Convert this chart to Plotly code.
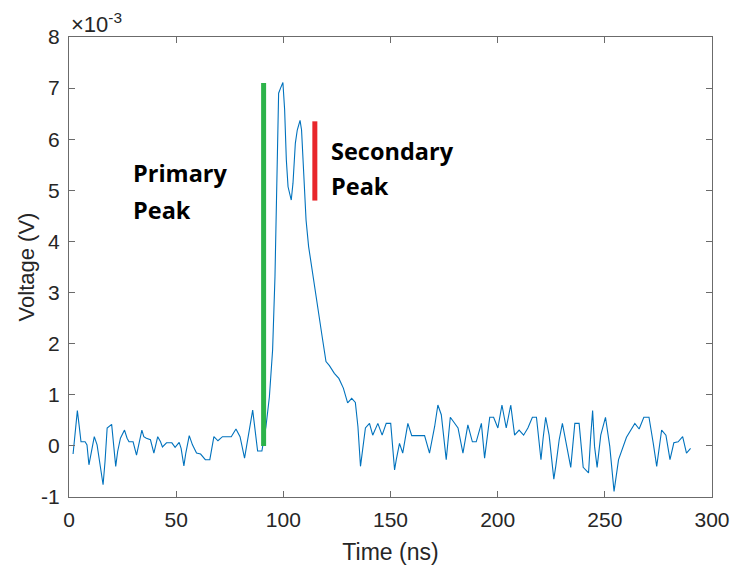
import plotly.graph_objects as go

# Time (ns) and voltage (x1e-3 V)
time_ns = [1.9, 2.8, 3.9, 4.7, 5.6, 7.5, 8.4, 9.3, 10.3, 11.8, 13.1, 14.3, 15.9, 16.8, 17.8,
           19.9, 20.9, 21.8, 22.7, 24.0, 25.9, 27.1, 28.0, 29.9, 31.5, 32.4, 34.0, 34.9, 36.1,
           38.0, 39.6, 41.4, 42.7, 43.6, 45.5, 48.0, 49.5, 51.4, 52.3, 53.6, 54.5, 56.1, 57.6,
           59.5, 61.4, 63.6, 65.7, 67.6, 69.5, 71.6, 75.7, 77.9, 79.8, 81.9, 83.7, 85.7, 86.5,
           88.0, 90.0, 91.9, 93.5, 95.0, 96.1, 97.0, 97.8, 98.7, 99.8, 100.6, 101.4, 102.2,
           102.9, 103.7, 104.5, 105.6, 106.5, 107.8, 108.5, 109.3, 110.6, 111.8, 112.9, 114.0,
           116.0, 118.1, 119.9, 121.5, 123.8, 125.9, 128.0, 130.0, 131.9, 133.6, 134.8, 136.0,
           138.3, 140.2, 141.7, 144.1, 146.1, 148.0, 150.1, 151.9, 152.7, 154.2, 155.7, 158.1,
           159.9, 165.9, 168.2, 170.6, 172.1, 173.7, 176.0, 177.9, 181.5, 183.8, 186.1, 188.2,
           190.0, 192.4, 193.9, 196.3, 198.1, 200.1, 202.0, 204.0, 206.1, 207.9, 210.0, 212.1,
           214.1, 216.2, 218.1, 219.3, 220.2, 221.2, 222.4, 224.0, 226.2, 227.1, 228.7, 230.2,
           232.1, 234.1, 236.0, 238.0, 239.9, 242.4, 243.3, 244.3, 245.2, 246.4, 248.1, 250.3,
           252.3, 254.3, 256.4, 260.1, 264.0, 266.0, 268.2, 270.6, 272.6, 274.2, 276.5, 278.5,
           280.4, 282.2, 284.2, 286.3, 288.1, 290.0]
voltage_e3 = [-0.16, 0.21, 0.69, 0.41, 0.08, 0.08, 0.02, -0.37, -0.14, 0.18, 0.02, -0.31, -0.76,
              -0.31, 0.35, 0.42, 0.02, -0.40, -0.11, 0.15, 0.31, 0.15, 0.08, 0.08, -0.18, 0.02,
              0.31, 0.18, 0.15, 0.12, -0.14, 0.18, 0.08, -0.02, 0.06, 0.06, -0.03, 0.07, -0.05,
              -0.39, -0.14, 0.20, 0.02, -0.14, -0.16, -0.27, -0.27, 0.18, 0.10, 0.18, 0.18, 0.33,
              0.18, -0.24, 0.25, 0.70, 0.42, -0.10, -0.10, 0.38, 0.96, 1.88, 3.31, 4.94, 6.90,
              7.00, 7.11, 6.58, 5.60, 5.07, 4.94, 4.81, 5.14, 5.92, 6.18, 6.37, 6.18, 5.60, 4.42,
              3.90, 3.58, 3.25, 2.66, 2.14, 1.65, 1.57, 1.42, 1.32, 1.13, 0.84, 0.93, 0.85, 0.38,
              -0.40, 0.35, 0.44, 0.21, 0.44, 0.21, 0.44, 0.44, -0.47, -0.27, 0.05, -0.14, 0.44,
              0.20, 0.20, -0.14, 0.38, 0.80, 0.61, -0.27, 0.56, 0.35, -0.14, 0.41, 0.08, 0.08,
              0.44, -0.24, 0.56, 0.56, 0.35, 0.80, 0.35, 0.80, 0.21, 0.31, 0.21, 0.35, 0.56, 0.56,
              0.05, -0.27, 0.15, 0.56, 0.21, -0.65, -0.40, 0.12, 0.44, 0.05, -0.42, 0.44, 0.44,
              -0.42, -0.53, 0.12, 0.69, -0.01, -0.42, 0.21, 0.56, -0.01, -0.89, -0.27, 0.17, 0.44,
              0.33, 0.56, 0.56, 0.05, -0.40, 0.31, 0.21, -0.27, 0.06, 0.08, 0.18, -0.14, -0.05]

primary_marker_x = [90.8, 90.8]
primary_marker_y = [0.0, 7.1]
secondary_marker_x = [114.7, 114.7]
secondary_marker_y = [4.8, 6.35]

x_ticks = [0, 50, 100, 150, 200, 250, 300]
y_ticks = [-1, 0, 1, 2, 3, 4, 5, 6, 7, 8]

fig = go.Figure()
fig.add_trace(go.Scatter(x=time_ns, y=voltage_e3, mode="lines",
                         line=dict(color="#0072BD", width=1.1), showlegend=False))
fig.add_trace(go.Scatter(x=primary_marker_x, y=primary_marker_y, mode="lines",
                         line=dict(color="#2DB34A", width=5), showlegend=False))
fig.add_trace(go.Scatter(x=secondary_marker_x, y=secondary_marker_y, mode="lines",
                         line=dict(color="#E8262B", width=5), showlegend=False))

ann_font = dict(family="Open Sans", size=23.5, color="black")
for label, xv, yv in [("Primary", 29.0, 5.34), ("Peak", 29.0, 4.62),
                      ("Secondary", 121.5, 5.77), ("Peak", 121.5, 5.08)]:
    fig.add_annotation(x=xv, y=yv, xref="x", yref="y", text="<b>" + label + "</b>",
                       showarrow=False, xanchor="left", yanchor="middle", align="left",
                       font=ann_font)
fig.add_annotation(x=0.0, y=1.0, xref="paper", yref="paper", text="×10<sup>-3</sup>",
                   showarrow=False, xanchor="left", yanchor="bottom", yshift=-2,
                   font=dict(family="Liberation Sans", size=22, color="#262626"))

axis_common = dict(showgrid=False, zeroline=False, showline=True, mirror="ticks",
                   linecolor="#6b6b6b", linewidth=1, ticks="inside", ticklen=6,
                   tickcolor="#6b6b6b", automargin=False,
                   tickfont=dict(family="Liberation Sans", size=21, color="#262626"))

fig.update_xaxes(range=[0, 300], tickvals=x_ticks, ticktext=[str(v) for v in x_ticks],
                 ticklabelstandoff=4,
                 title=dict(text="Time (ns)", font=dict(family="Liberation Sans", size=23, color="#262626"),
                            standoff=13),
                 **axis_common)
fig.update_yaxes(range=[-1, 8], tickvals=y_ticks, ticktext=[str(v) for v in y_ticks],
                 ticklabelstandoff=4,
                 title=dict(text="Voltage (V)", font=dict(family="Liberation Sans", size=22, color="#262626"),
                            standoff=0),
                 **axis_common)

fig.update_layout(width=735, height=575, paper_bgcolor="white", plot_bgcolor="white",
                  margin=dict(l=69, r=23, t=37, b=78), showlegend=False)

fig.write_html("out.html")
